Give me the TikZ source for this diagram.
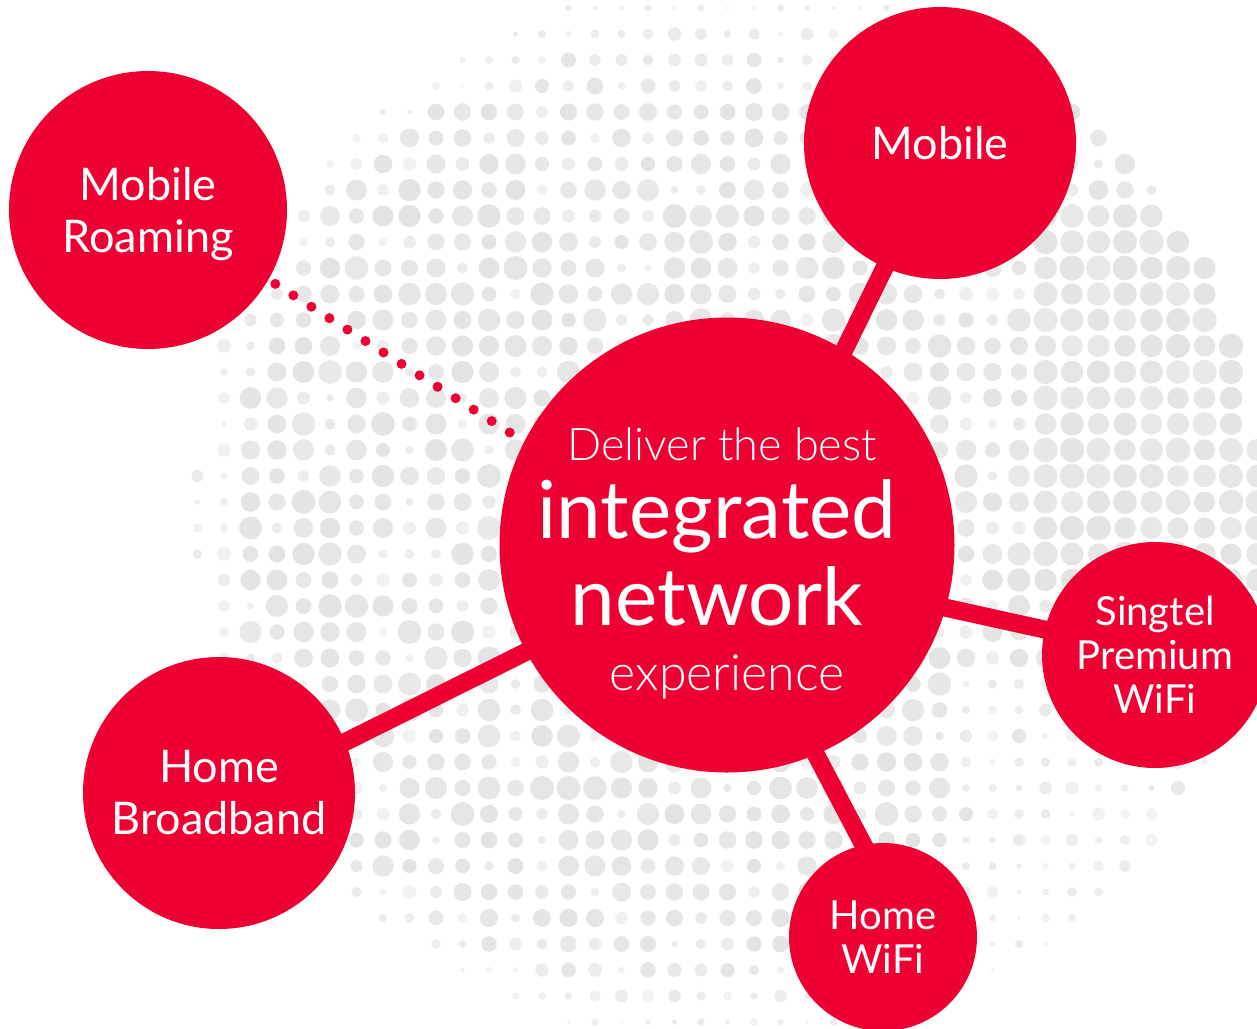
\documentclass[tikz,border=0pt]{standalone}
\usepackage{fontspec}
\setmainfont{Lato}
\newfontfamily\lightfont{Lato Light}
\usetikzlibrary{backgrounds}
\definecolor{stred}{HTML}{EE0033}
\begin{document}
\begin{tikzpicture}[x=1pt,y=-1pt,
  bubble/.style={circle, fill=stred, inner sep=0pt, text=white, align=center},
  conn/.style={draw=stred, line width=18pt, shorten <=-25pt, shorten >=-25pt},
  ctext/.style={text=white, anchor=base, inner sep=0pt},
  dotline/.style={draw=stred, line width=10pt, line cap=round, dash pattern=on 0pt off 21.35pt, shorten <=8pt, shorten >=17pt},
  lblbig/.style={font=\fontsize{45}{52}\selectfont},
  lblsmall/.style={font=\fontsize{40}{44}\selectfont}]
\useasboundingbox (0,0) rectangle (1257,1028);

% bubbles
\node[bubble, minimum size=455pt] (center) at (727,545) {};
\node[bubble, minimum size=278pt, lblbig, text depth=0pt] (mr) at (148,210) {Mobile\\Roaming};
\node[bubble, minimum size=272pt, lblbig] (mobile) at (940,143) {Mobile};
\node[bubble, minimum size=226pt, lblsmall] (singtel) at (1155,655) {Singtel\\Premium\\WiFi};
\node[bubble, minimum size=188pt, lblsmall] (homewifi) at (883,937) {Home\\WiFi};
\node[bubble, minimum size=272pt, lblbig] (hb) at (219,793) {Home\\Broadband};

% centre text
\node[ctext, font=\lightfont\fontsize{45}{45}\selectfont] (t1) at (722,460) {Deliver the best};
\node[ctext, font=\fontsize{80}{80}\selectfont] (t2) at (717,538) {integrated};
\node[ctext, font=\fontsize{80}{80}\selectfont] (t3) at (717,625) {network};
\node[ctext, font=\lightfont\fontsize{50}{50}\selectfont] (t4) at (727,690) {experience};

\begin{pgfonlayer}{background}
  \fill[white] (0,0) rectangle (1257,1028);
  \pgfmathsetseed{11}
  \foreach \i in {0,...,47}{
    \foreach \j in {0,...,39}{
      \pgfmathsetmacro{\px}{12+26.5*\i}
      \pgfmathsetmacro{\py}{8+26*\j}
      \pgfmathsetmacro{\dd}{100*sqrt(((\px-730)/100)^2+((\py-515)/100)^2)}
      \ifdim\dd pt<535pt
        \pgfmathsetmacro{\vy}{abs(\py-515)}
        \pgfmathsetmacro{\fv}{\vy<300 ? 1 : 1-0.5*(\vy-300)/220}
        \pgfmathsetmacro{\rr}{(3.5+8.5*(rnd^0.6))*\fv}
        \pgfmathsetmacro{\rr}{(\px>950 && \py>680) ? 0.6*\rr : \rr}
        \pgfmathsetmacro{\rr}{(\dd>500 && \px<1000) ? 0.6*\rr : \rr}
        \pgfmathsetmacro{\rr}{(\px>1040 && \py>190 && \py<600) ? 10.5+2*rnd : \rr}
        \pgfmathsetmacro{\gg}{\rr>7 ? 9+2*rnd : 5+4*rnd}
        \fill[black!\gg] (\px,\py) circle[radius=\rr pt];
      \fi
    }
  }
  \draw[conn] (center.59.9) -- (mobile.-114.7);
  \draw[conn] (center.-16.6) -- (singtel.167.2);
  \draw[conn] (center.-67.2) -- (homewifi.102.9);
  \draw[conn] (center.208.3) -- (hb.22.4);
\end{pgfonlayer}

\draw[dotline] (mr.-30) -- (center.153);
\end{tikzpicture}
\end{document}
